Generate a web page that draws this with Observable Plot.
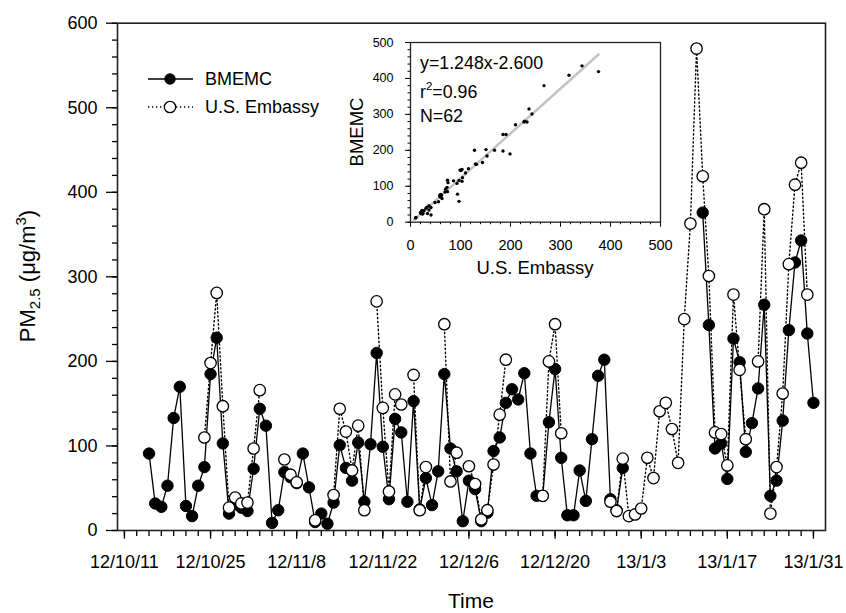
<!DOCTYPE html>
<html><head><meta charset="utf-8">
<script src="https://cdn.jsdelivr.net/npm/d3@7"></script>
<script src="https://cdn.jsdelivr.net/npm/@observablehq/plot@0.6"></script>
<style>
body{margin:0;background:#fff;}
#chart{position:relative;width:846px;height:613px;}
</style></head><body><div id="chart"></div>
<script>
// ---- data ----
const dates = [
 "12/10/15","12/10/16","12/10/17","12/10/18","12/10/19","12/10/20","12/10/21","12/10/22","12/10/23","12/10/24","12/10/25","12/10/26","12/10/27","12/10/28","12/10/29","12/10/30","12/10/31",
 "12/11/1","12/11/2","12/11/3","12/11/4","12/11/5","12/11/6","12/11/7","12/11/8","12/11/9","12/11/10","12/11/11","12/11/12","12/11/13","12/11/14","12/11/15","12/11/16","12/11/17","12/11/18","12/11/19","12/11/20","12/11/21","12/11/22","12/11/23","12/11/24","12/11/25","12/11/26","12/11/27","12/11/28","12/11/29","12/11/30",
 "12/12/1","12/12/2","12/12/3","12/12/4","12/12/5","12/12/6","12/12/7","12/12/8","12/12/9","12/12/10","12/12/11","12/12/12","12/12/13","12/12/14","12/12/15","12/12/16","12/12/17","12/12/18","12/12/19","12/12/20","12/12/21","12/12/22","12/12/23","12/12/24","12/12/25","12/12/26","12/12/27","12/12/28","12/12/29","12/12/30","12/12/31",
 "13/1/1","13/1/2","13/1/3","13/1/4","13/1/5","13/1/6","13/1/7","13/1/8","13/1/9","13/1/10","13/1/11","13/1/12","13/1/13","13/1/14","13/1/15","13/1/16","13/1/17","13/1/18","13/1/19","13/1/20","13/1/21","13/1/22","13/1/23","13/1/24","13/1/25","13/1/26","13/1/27","13/1/28","13/1/29","13/1/30","13/1/31"
];
const bmemc = [
 91,32,28,53,133,170,29,17,53,75,185,228,103,20,31,27,23,
 73,144,124,9,24,69,63,56,91,51,10,20,8,33,101,74,59,104,34,102,210,99,37,132,116,34,153,25,62,30,
 70,185,97,70,11,59,49,11,21,94,110,151,167,155,186,91,41,41,128,191,86,18,18,71,35,108,183,202,37,24,74,
 null,null,null,null,null,null,null,null,null,null,null,null,376,243,97,103,61,227,199,93,127,168,267,41,59,130,237,317,343,233,151
];
const usEmbassy = [
 null,null,null,null,null,null,null,null,null,110,198,281,147,27,39,32,33,
 97,166,null,null,null,84,66,57,null,null,12,null,null,42,144,117,71,124,24,null,271,145,46,161,149,null,184,24,75,null,
 null,244,58,92,null,76,55,13,24,78,137,202,null,null,null,null,null,41,200,244,115,null,null,null,null,null,null,null,34,23,85,
 17,19,26,86,62,141,151,120,80,250,363,570,419,301,116,114,77,279,190,108,null,200,380,20,75,162,315,409,435,279,null
];
const xTickLabels = ["12/10/11","12/10/25","12/11/8","12/11/22","12/12/6","12/12/20","13/1/3","13/1/17","13/1/31"];
const yTicks = [0,100,200,300,400,500,600];
const insetTicks = [0,100,200,300,400,500];
const fitSlope = 1.248, fitIntercept = -2.6, fitR2 = "0.96", fitN = 62;
const fitXRange = [7, 376];
const seriesNames = ["BMEMC","U.S. Embassy"];

// ---- build ----
const FONT = "'Liberation Sans', Arial, Helvetica, sans-serif";
const parse = s => { const [y,m,d] = s.split("/").map(Number); return new Date(Date.UTC(2000+y, m-1, d)); };
const rows = dates.map((s,i) => ({date: parse(s), b: bmemc[i], u: usEmbassy[i]}));
const xTicks = xTickLabels.map(parse);
const labelMap = new Map(xTicks.map((d,i)=>[+d, xTickLabels[i]]));
const minorX = d3.utcDay.range(xTicks[0], d3.utcDay.offset(xTicks[xTicks.length-1],1)).filter((d,i)=>i%2===0);
const pairs = rows.filter(r => r.b != null && r.u != null);
const fitLine = fitXRange.map(x => ({x, y: fitSlope*x + fitIntercept}));

const main = Plot.plot({
  width: 846, height: 613,
  marginLeft: 117, marginRight: 21, marginTop: 22.7, marginBottom: 83,
  style: {fontFamily: FONT, fontSize: "18px", color: "#000", background: "white"},
  x: {type: "utc", domain: [new Date(Date.UTC(2012,9,9,21)), new Date(Date.UTC(2013,1,1,23))]},
  y: {domain: [0, 600]},
  marks: [
    Plot.axisY({ticks: d3.range(0,601,20), tickSize: 5, tickFormat: () => "", label: null, strokeWidth: 1.3}),
    Plot.axisY({ticks: yTicks, tickSize: 11, tickPadding: 9, tickFormat: d => String(d), label: null, strokeWidth: 1.3}),
    Plot.axisX({ticks: minorX, tickSize: 6, tickFormat: () => "", label: null, strokeWidth: 1.3}),
    Plot.axisX({ticks: xTicks, tickSize: 8.7, tickPadding: 16.3, tickFormat: d => labelMap.get(+d), label: null, strokeWidth: 1.3}),
    Plot.frame({stroke: "#222", strokeWidth: 1.6}),
    Plot.line(rows, {x: "date", y: "b", stroke: "black", strokeWidth: 1.3}),
    Plot.dot(rows.filter(r => r.b != null), {x: "date", y: "b", r: 5.7, fill: "black", stroke: "black", strokeWidth: 1}),
    Plot.line(rows, {x: "date", y: "u", stroke: "black", strokeWidth: 1.4, strokeDasharray: "1.3,2.7"}),
    Plot.dot(rows.filter(r => r.u != null), {x: "date", y: "u", r: 5.7, fill: "white", stroke: "black", strokeWidth: 1.3})
  ]
});
document.getElementById("chart").appendChild(main);

const svg = d3.select(main);
// legend
const lg = svg.append("g").attr("font-family", FONT).attr("font-size", 18).attr("text-anchor", "start");
lg.append("line").attr("x1",148).attr("x2",193).attr("y1",79).attr("y2",79).attr("stroke","black").attr("stroke-width",1.3);
lg.append("circle").attr("cx",170).attr("cy",79).attr("r",5.7).attr("fill","black");
lg.append("text").attr("x",205).attr("y",79).attr("dy","0.36em").text(seriesNames[0]);
lg.append("line").attr("x1",148).attr("x2",193).attr("y1",107).attr("y2",107).attr("stroke","black").attr("stroke-width",1.4).attr("stroke-dasharray","1.3,2.7");
lg.append("circle").attr("cx",170).attr("cy",107).attr("r",5.7).attr("fill","white").attr("stroke","black").attr("stroke-width",1.3);
lg.append("text").attr("x",205).attr("y",107).attr("dy","0.36em").text(seriesNames[1]);
// axis titles
const yt = svg.append("text").attr("transform","translate(35,276) rotate(-90)").attr("text-anchor","middle")
  .attr("font-family", FONT).attr("font-size", 22);
yt.append("tspan").text("PM");
yt.append("tspan").attr("font-size", 15).attr("dy", 5).text("2.5");
yt.append("tspan").attr("dy", -5).text(" (μg/m");
yt.append("tspan").attr("font-size", 15).attr("dy", -9).text("3");
yt.append("tspan").attr("dy", 9).text(")");
svg.append("text").attr("x", 471).attr("y", 608).attr("text-anchor","middle")
  .attr("font-family", FONT).attr("font-size", 21).text("Time");

// ---- inset ----
const inset = Plot.plot({
  width: 360, height: 260,
  marginLeft: 80, marginRight: 30, marginTop: 12, marginBottom: 68.3,
  style: {fontFamily: FONT, fontSize: "14.5px", color: "#000", background: "transparent"},
  x: {domain: [0, 500]},
  y: {domain: [0, 500]},
  marks: [
    Plot.frame({fill: "white", stroke: "none"}),
    Plot.axisY({ticks: d3.range(0,501,20), tickSize: 2.5, tickFormat: () => "", label: null}),
    Plot.axisY({ticks: insetTicks, tickSize: 5, tickPadding: 12, fontSize: 12.5, tickFormat: d => String(d), label: null}),
    Plot.axisX({ticks: d3.range(0,501,20), tickSize: 2.5, tickFormat: () => "", label: null}),
    Plot.axisX({ticks: insetTicks, tickSize: 5, tickPadding: 13, tickFormat: d => String(d), label: null}),
    Plot.line(fitLine, {x: "x", y: "y", stroke: "#c4c4c4", strokeWidth: 2.6}),
    Plot.dot(pairs, {x: "b", y: "u", r: 1.7, fill: "black"}),
    Plot.frame({stroke: "#222", strokeWidth: 1.3})
  ]
});
inset.style.position = "absolute";
inset.style.left = "330px";
inset.style.top = "30px";
document.getElementById("chart").appendChild(inset);
const isvg = d3.select(inset);
const ig = isvg.append("g").attr("font-family", FONT).attr("font-size", 17.8).attr("text-anchor", "start");
ig.append("text").attr("x", 90).attr("y", 38.5).text(`y=${fitSlope}x${fitIntercept < 0 ? "-" : "+"}${Math.abs(fitIntercept).toFixed(3)}`);
const r2 = ig.append("text").attr("x", 90).attr("y", 67.5);
r2.append("tspan").text("r");
r2.append("tspan").attr("font-size", 11.5).attr("dy", -8).text("2");
r2.append("tspan").attr("dy", 8).text("=" + fitR2);
ig.append("text").attr("x", 90).attr("y", 92).text("N=" + fitN);
ig.append("text").attr("transform", "translate(26,102) rotate(-90)").attr("text-anchor","middle").attr("dy","0.36em").attr("font-size", 18.5).text(seriesNames[0]);
ig.append("text").attr("x", 205).attr("y", 243.5).attr("text-anchor","middle").attr("font-size", 18.5).text(seriesNames[1]);
</script></body></html>
